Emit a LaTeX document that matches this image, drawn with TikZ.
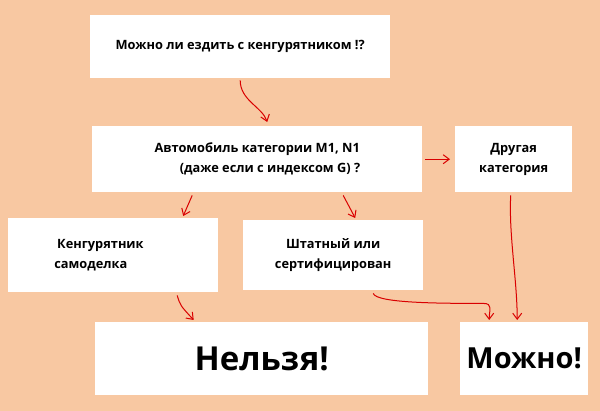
\documentclass[tikz,border=0pt]{standalone}
\usepackage{fontspec}
\setmainfont{Open Sans}
\usetikzlibrary{arrows.meta}
\definecolor{bgc}{HTML}{F8C8A2}
\begin{document}
\begin{tikzpicture}[x=1pt,y=-1pt,
  box/.style={fill=white,draw=none,anchor=north west,align=center,inner sep=0pt,font=\bfseries\fontsize{12.8}{20}\selectfont},
  arr/.style={draw=red!85!black,line width=1pt,-{Straight Barb[length=6pt,width=9pt]}}]
\fill[bgc] (0,0) rectangle (600,411);
\useasboundingbox (0,0) rectangle (600,411);
\node[box,minimum width=300,minimum height=63] (q) at (90,15) {Можно ли ездить с кенгурятником !?};
\node[box,minimum width=330,minimum height=66] (a) at (92,126) {Автомобиль категории М1, N1\\\hspace*{2em}(даже если с индексом G) ?};
\node[box,minimum width=117,minimum height=66] (d) at (455,126) {Другая\\категория};
\node[box,minimum width=210,minimum height=74] (k) at (8,218) {Кенгурятник\hspace*{2em}\\самоделка\hspace*{3.5em}};
\node[box,minimum width=180,minimum height=70] (s) at (243,220) {Штатный или\\сертифицирован};
\node[box,minimum width=333,minimum height=73,font=\bfseries\fontsize{33}{40}\selectfont] (n) at (95,322) {Нельзя!};
\node[box,minimum width=128,minimum height=73,font=\bfseries\fontsize{29}{36}\selectfont] (m) at (460,322) {Можно!};
\draw[arr] ([xshift=0pt,yshift=-2pt]q.south) .. controls +(0,20) and +(-5,-15) .. ([xshift=10pt,yshift=4pt]a.north);
\draw[arr] ([xshift=3pt]a.east) -- ([xshift=-5pt]d.west);
\draw[arr] ([xshift=-65pt,yshift=-3pt]a.south) -- ([xshift=70pt,yshift=2pt]k.north);
\draw[arr] ([xshift=86pt,yshift=-3pt]a.south) -- ([xshift=22pt,yshift=2pt]s.north);
\draw[arr] ([xshift=-3pt,yshift=-3pt]d.south) .. controls +(-2,40) and +(0,-40) .. ([xshift=-7pt,yshift=2pt]m.north);
\draw[arr] ([xshift=40pt,yshift=-3pt]s.south) .. controls +(3,10) and +(-40,0) .. ++(110,10) .. controls +(10,0) and +(0,-10) .. ([xshift=-35pt,yshift=2pt]m.north);
\draw[arr] ([xshift=64pt,yshift=-3pt]k.south) .. controls +(3,10) .. ([xshift=-68pt,yshift=2pt]n.north);
\end{tikzpicture}
\end{document}
